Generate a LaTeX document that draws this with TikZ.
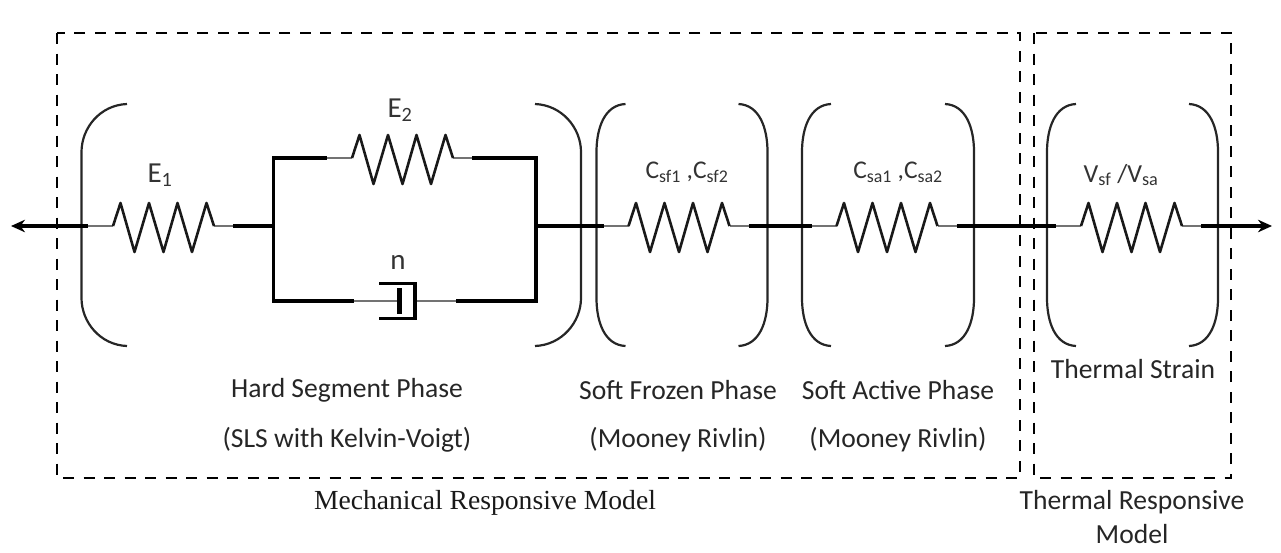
\documentclass[tikz,border=0pt]{standalone}
\usepackage{fontspec}
\setmainfont{Carlito}
\newfontfamily\capfont{Liberation Serif}
\usetikzlibrary{arrows.meta}
\tikzset{
  wire/.style={line width=3.4pt,black},
  leadline/.style={line width=2pt,black!55},
  coil/.style={line width=2.6pt,black!90,line join=round},
  paren/.style={line width=2.2pt,black!85},
  dashbox/.style={line width=2.8pt,black,dash pattern=on 11pt off 9.5pt},
  lab/.style={font=\fontsize{27.6}{32}\selectfont,inner sep=0pt,black!85},
  param/.style={font=\fontsize{29}{34}\selectfont,inner sep=0pt,black!80},
  smallparam/.style={font=\fontsize{25.5}{30}\selectfont,inner sep=0pt,black!80},
  captext/.style={font=\capfont\fontsize{27.6}{32}\selectfont,inner sep=0pt,black!90},
  arrowwire/.style={wire,-{Stealth[length=14pt,width=12.5pt]}}
}
% spring: name, zigzag start x, wire y
\newcommand{\springat}[3]{%
  \coordinate (#1-l) at (#2-25,#3);
  \coordinate (#1-r) at (#2+120,#3);
  \draw[leadline] (#1-l) -- (#2,#3);
  \draw[leadline] (#2+101,#3) -- (#1-r);
  \draw[coil] (#2,#3) -- (#2+7.5,#3-23) -- (#2+21.5,#3+26) -- (#2+36,#3-23) -- (#2+50.5,#3+26)
     -- (#2+64.5,#3-23) -- (#2+79,#3+26) -- (#2+93.5,#3-23) -- (#2+101,#3);
}
% bracket pair: name, x left, x right
\newcommand{\bracketpair}[3]{%
  \draw[paren] (#2+29,104) .. controls (#2+8,105) and (#2,128) .. (#2,152) -- (#2,298)
     .. controls (#2,322) and (#2+8,345) .. (#2+29,346);
  \draw[paren] (#3-29,104) .. controls (#3-8,105) and (#3,128) .. (#3,152) -- (#3,298)
     .. controls (#3,322) and (#3-8,345) .. (#3-29,346);
}
\begin{document}
\begin{tikzpicture}[x=1pt,y=-1pt]
\useasboundingbox (0,0) rectangle (1281,552);
% dashed frames
\draw[dashbox] (57,33) rectangle (1020,478);
\draw[dashbox] (1034,33) rectangle (1231,478);
% brackets
\draw[paren] (127,104) .. controls (100,105) and (81.5,128) .. (81.5,152) -- (81.5,298)
   .. controls (81.5,322) and (100,345) .. (127,346);
\draw[paren] (535,104) .. controls (562,105) and (581,128) .. (581,152) -- (581,298)
   .. controls (581,322) and (562,345) .. (535,346);
\bracketpair{sf}{596.5}{767.5}
\bracketpair{sa}{802}{974}
\bracketpair{th}{1047}{1218}
% springs
\springat{eone}{113}{226}
\springat{etwo}{352}{158}
\springat{csf}{628.5}{226}
\springat{csa}{836.5}{226}
\springat{vth}{1081}{226}
% terminals
\coordinate (endL) at (11,226);
\coordinate (endR) at (1272,226);
\coordinate (jL) at (273.5,226);
\coordinate (jR) at (536,226);
\coordinate (tl) at (273.5,158);
\coordinate (tr) at (536,158);
\coordinate (bl) at (273.5,301);
\coordinate (br) at (536,301);
\coordinate (pist) at (399,301);
\coordinate (pistT) at (399,288);
\coordinate (pistB) at (399,314);
\coordinate (cylTL) at (379,283.5);
\coordinate (cylTR) at (415,283.5);
\coordinate (cylBR) at (415,318.5);
\coordinate (cylBL) at (379,318.5);
\coordinate (cylM) at (415,301);
\coordinate (dl) at (354,301);
\coordinate (dr) at (456,301);
% wires
\draw[arrowwire] (eone-l) -- (endL);
\draw[wire] (eone-r) -- (jL);
\draw[wire,line cap=rect] (tl) -- (bl);
\draw[wire,line cap=rect] (tr) -- (br);
\draw[wire] (tl) -- (etwo-l);
\draw[wire] (etwo-r) -- (tr);
\draw[wire] (jR) -- (csf-l);
\draw[wire] (csf-r) -- (csa-l);
\draw[wire] (csa-r) -- (vth-l);
\draw[arrowwire] (vth-r) -- (endR);
% dashpot
\draw[wire] (bl) -- (dl);
\draw[wire] (dr) -- (br);
\draw[leadline] (dl) -- (pist);
\draw[leadline] (cylM) -- (dr);
\draw[line width=5pt,black] (pistT) -- (pistB);
\draw[line width=3.8pt,black,line join=miter] (cylTL) -- (cylTR) -- (cylBR) -- (cylBL);
% labels
\node[param] (l1) at (160,175) {E\textsubscript{1}};
\node[param] (l2) at (400,110) {E\textsubscript{2}};
\node[param] (l3) at (398,262) {n};
\node[smallparam] (l4) at (687,172) {C\textsubscript{sf1} ,C\textsubscript{sf2}};
\node[smallparam] (l5) at (898,172) {C\textsubscript{sa1} ,C\textsubscript{sa2}};
\node[smallparam,font=\fontsize{26}{30}\selectfont] (l6) at (1121,175) {V\textsubscript{sf} /V\textsubscript{sa}};
\node[lab] (t1) at (347,390) {Hard Segment Phase};
\node[lab] (t2) at (347,440) {(SLS with Kelvin-Voigt)};
\node[lab] (t3) at (678,390) {Soft Frozen Phase};
\node[lab] (t4) at (678,440) {(Mooney Rivlin)};
\node[lab] (t5) at (898,390) {Soft Active Phase};
\node[lab] (t6) at (898,440) {(Mooney Rivlin)};
\node[lab] (t7) at (1133,369) {Thermal Strain};
\node[captext] (c1) at (485,503) {Mechanical Responsive Model};
\node[lab] (c2) at (1132,502) {Thermal Responsive};
\node[lab] (c3) at (1132,534) {Model};
\end{tikzpicture}
\end{document}
